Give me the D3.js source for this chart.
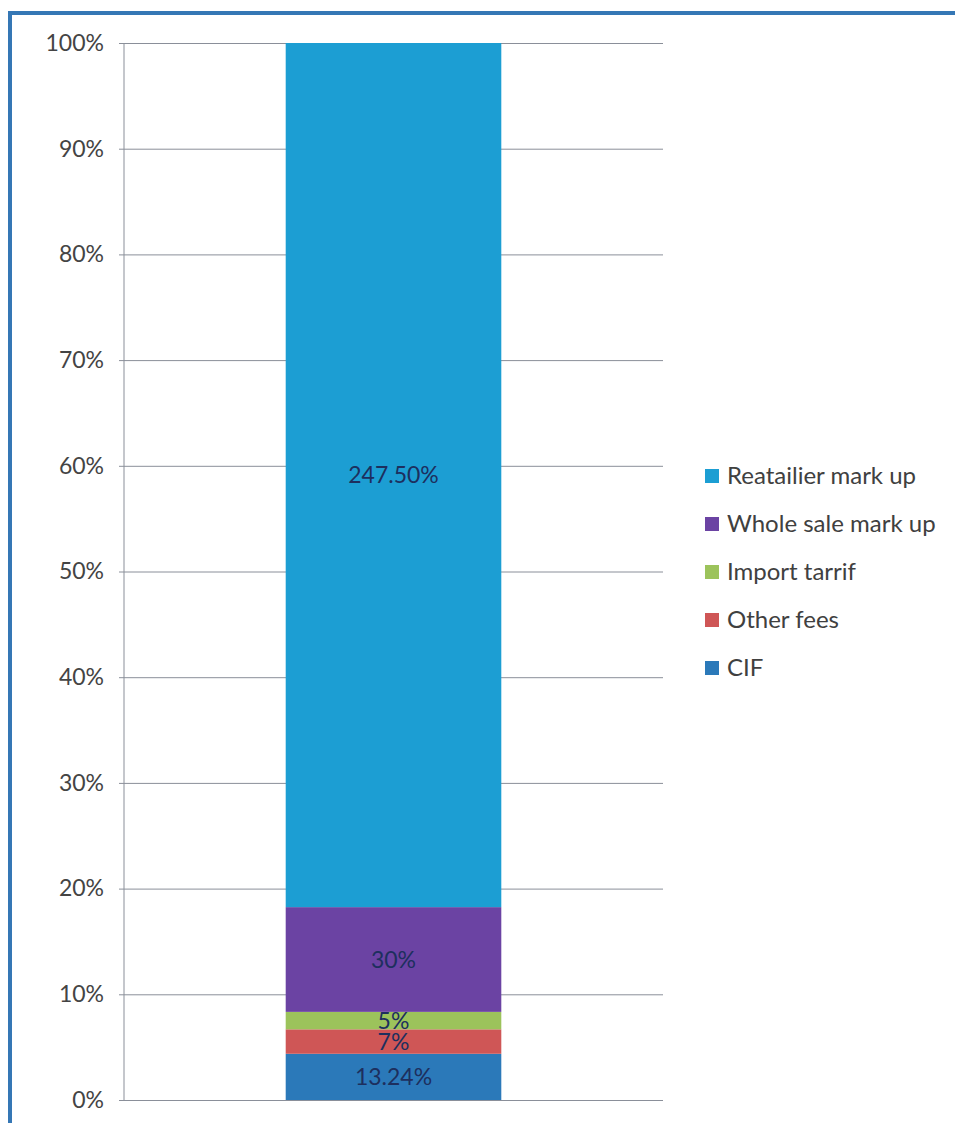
<!DOCTYPE html>
<html><head><meta charset="utf-8">
<script src="https://cdn.jsdelivr.net/npm/d3@7"></script>
<style>body{margin:0;background:#fff;} svg{display:block;}</style>
</head><body>
<svg id="chart" width="955" height="1123"></svg>
<script>
const categories = ["Price"];
const seriesNames = ["CIF", "Other fees", "Import tarrif", "Whole sale mark up", "Reatailier mark up"];
const seriesValues = [13.24, 7, 5, 30, 247.5];
const seriesLabels = ["13.24%", "7%", "5%", "30%", "247.50%"];
const seriesColors = ["#2b79b9", "#cf5656", "#9cc35b", "#6b43a3", "#1c9ed3"];
const tickValues = [0, 0.1, 0.2, 0.3, 0.4, 0.5, 0.6, 0.7, 0.8, 0.9, 1];
const legendOrder = ["Reatailier mark up", "Whole sale mark up", "Import tarrif", "Other fees", "CIF"];

(function () {
const svg = d3.select("#chart");
const font = "Lato, 'Open Sans', sans-serif";

// frame
svg.append("rect").attr("x", 10).attr("y", 13).attr("width", 1000).attr("height", 1200)
  .attr("fill", "none").attr("stroke", "#3577b5").attr("stroke-width", 4);

const pLeft = 124, pRight = 663, pTop = 43, pBottom = 1100;
const y = d3.scaleLinear().domain([0, 1]).range([pBottom, pTop]);
const x = d3.scaleBand().domain(categories).range([pLeft, pRight]).paddingInner(0).paddingOuter(0.75);

const axis = d3.axisLeft(y).tickValues(tickValues).tickFormat(d3.format(".0%"))
  .tickSize(-(pRight - pLeft)).tickSizeOuter(0).tickPadding(20);
const g = svg.append("g").attr("transform", `translate(${pLeft},0)`).call(axis);
g.select(".domain").remove();
g.selectAll(".tick line").attr("stroke", "#8a8f99").attr("stroke-width", 1).attr("x1", -5);
g.selectAll(".tick text").attr("fill", "#444").attr("font-family", font).attr("font-size", 23);
svg.append("line").attr("x1", pLeft).attr("x2", pLeft).attr("y1", pTop).attr("y2", pBottom)
  .attr("stroke", "#8a8f99").attr("stroke-width", 1);

const total = d3.sum(seriesValues);
const row = { cat: categories[0] };
seriesNames.forEach((n, i) => row[n] = seriesValues[i] / total);
const stack = d3.stack().keys(seriesNames)([row]);

stack.forEach((s, i) => {
  const d = s[0];
  svg.append("rect").attr("x", x(categories[0])).attr("width", x.bandwidth())
    .attr("y", y(d[1])).attr("height", y(d[0]) - y(d[1])).attr("fill", seriesColors[i]);
});
stack.forEach((s, i) => {
  const d = s[0];
  svg.append("text").attr("x", x(categories[0]) + x.bandwidth() / 2)
    .attr("y", (y(d[0]) + y(d[1])) / 2).attr("dy", "0.35em")
    .attr("text-anchor", "middle").attr("font-family", font).attr("font-size", 23)
    .attr("fill", "#1d2f5e").text(seriesLabels[i]);
});

const lg = svg.append("g");
legendOrder.forEach((n, i) => {
  const idx = seriesNames.indexOf(n);
  const yy = 476 + i * 48;
  lg.append("rect").attr("x", 705).attr("y", yy - 7).attr("width", 14).attr("height", 14)
    .attr("fill", seriesColors[idx]);
  lg.append("text").attr("x", 727).attr("y", yy).attr("dy", "0.35em")
    .attr("font-family", font).attr("font-size", 24).attr("fill", "#404040").text(n);
});
})();
</script>
</body></html>
